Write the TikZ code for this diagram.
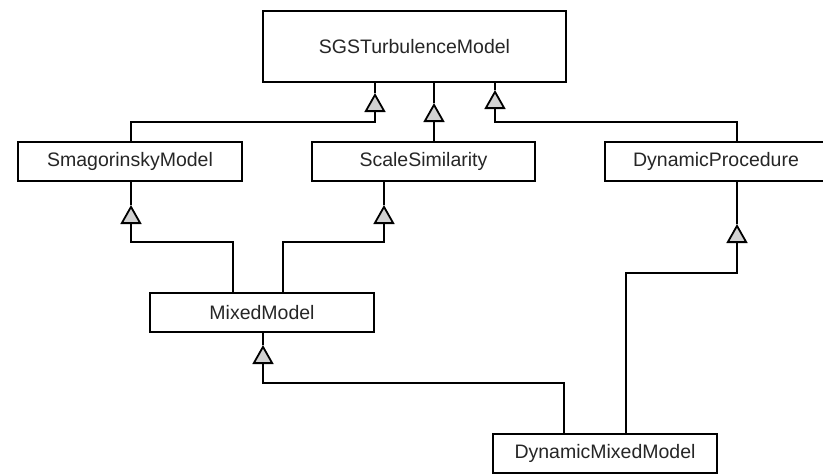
\documentclass[tikz,border=0pt]{standalone}
\usepackage{fontspec}
\setmainfont{Liberation Sans}
\usetikzlibrary{arrows.meta}
\begin{document}
\begin{tikzpicture}[x=1pt,y=-1pt,
  cls/.style={draw=black, line width=1.6pt, fill=white, inner sep=0pt,
    font=\fontsize{19.5}{22}\selectfont, text=black!85},
  conn/.style={line width=1.6pt, draw=black},
  gen/.style={conn, -{Triangle[open, length=19pt, width=21pt, line width=1.8pt, fill=gray!35]}}
]
\useasboundingbox (0,0) rectangle (823,475);
\begin{scope}
\clip (0,0) rectangle (823,475);
% classes
\node[cls, minimum width=303pt, minimum height=71pt] (sgs) at (414.5,46.5) {SGSTurbulenceModel};
\node[cls, minimum width=224pt, minimum height=39pt] (smag) at (130,161.5) {SmagorinskyModel};
\node[cls, minimum width=223pt, minimum height=39pt] (scale) at (423.5,161.5) {ScaleSimilarity};
\node[cls, minimum width=222pt, minimum height=39pt] (dp) at (716,161.5) {DynamicProcedure};
\node[cls, minimum width=224pt, minimum height=39pt] (mixed) at (262,312.5) {MixedModel};
\node[cls, minimum width=224pt, minimum height=39pt] (dmm) at (605,453.5) {DynamicMixedModel};
% arrow apex points
\coordinate (a1) at (375,93);
\coordinate (a2) at (434,103);
\coordinate (a3) at (495,90);
\coordinate (a4) at (131,205);
\coordinate (a5) at (384,205);
\coordinate (a6) at (263,345);
\coordinate (a7) at (737,224);
% elbows and attachment columns
\coordinate (e1) at (375,122);
\coordinate (e3) at (495,122);
\coordinate (e4) at (131,242);
\coordinate (e5) at (384,242);
\coordinate (e6) at (263,383);
\coordinate (e7) at (737,273);
\coordinate (c4) at (233,0);
\coordinate (c5) at (283,0);
\coordinate (c6) at (564,0);
\coordinate (c7) at (626,0);
% generalisations
\draw[gen] (smag.north -| a4) |- (e1) -- (a1);
\draw[gen] (scale.north -| a2) -- (a2);
\draw[gen] (dp.north -| a7) |- (e3) -- (a3);
\draw[gen] (mixed.north -| c4) |- (e4) -- (a4);
\draw[gen] (mixed.north -| c5) |- (e5) -- (a5);
\draw[gen] (dmm.north -| c6) |- (e6) -- (a6);
\draw[gen] (dmm.north -| c7) |- (e7) -- (a7);
% lines from the tips to the parents
\draw[conn] (a1) -- (a1 |- sgs.south);
\draw[conn] (a2) -- (a2 |- sgs.south);
\draw[conn] (a3) -- (a3 |- sgs.south);
\draw[conn] (a4) -- (a4 |- smag.south);
\draw[conn] (a5) -- (a5 |- scale.south);
\draw[conn] (a6) -- (a6 |- mixed.south);
\draw[conn] (a7) -- (a7 |- dp.south);
\end{scope}
\end{tikzpicture}
\end{document}
